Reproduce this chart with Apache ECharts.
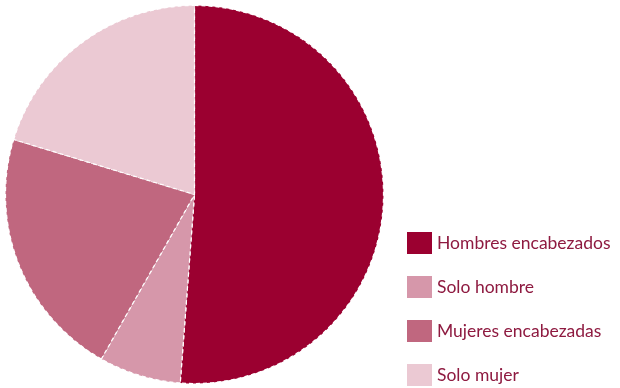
<!DOCTYPE html>
<html><head><meta charset="utf-8">
<script src="https://cdn.jsdelivr.net/npm/echarts@6/dist/echarts.min.js"></script>
<style>html,body{margin:0;padding:0;background:#fff}#c{width:620px;height:388px}</style>
</head><body><div id="c"></div>
<script>
const categories = ["Hombres encabezados", "Solo hombre", "Mujeres encabezadas", "Solo mujer"];
const values = [51.2, 7.0, 21.5, 20.3];
const colors = ["#9b0030", "#d697aa", "#c0677f", "#ebc9d3"];

const chart = echarts.init(document.getElementById('c'));
chart.setOption({
  animation: false,
  color: colors,
  legend: {
    type: 'plain',
    orient: 'vertical',
    left: 407, top: 232,
    height: 200,
    padding: 0,
    itemWidth: 25, itemHeight: 22, itemGap: 22,
    icon: 'rect',
    itemStyle: { borderWidth: 0 },
    textStyle: { fontFamily: 'Lato', fontSize: 17.5, color: '#8e1a40', padding: [2,0,0,0] },
    data: categories
  },
  series: [{
    type: 'pie',
    center: [194.5, 194.5],
    radius: [0, 189],
    startAngle: 90,
    clockwise: true,
    label: { show: false },
    labelLine: { show: false },
    emphasis: { disabled: true },
    itemStyle: { borderColor: '#ffffff', borderWidth: 1.2, borderType: [4, 3] },
    data: categories.map((n, i) => ({ name: n, value: values[i] }))
  }]
});
</script></body></html>
